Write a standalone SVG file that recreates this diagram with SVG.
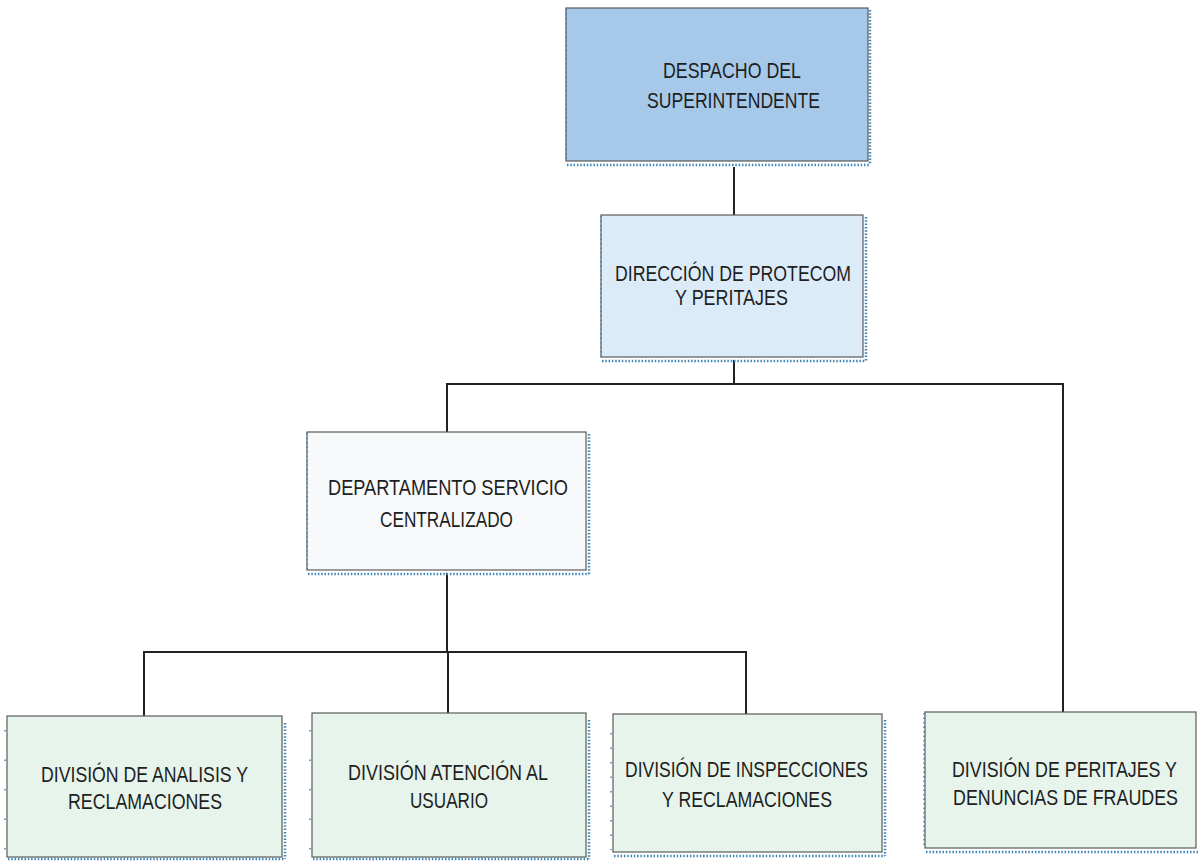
<svg xmlns="http://www.w3.org/2000/svg" width="1199" height="861" viewBox="0 0 1199 861">
<style>
.box{stroke:#5a5a5a;stroke-width:1.2}
.shadow{fill:none;stroke:#3d87b8;stroke-width:2.5;stroke-dasharray:1.5 1.8}
.lshadow{fill:none;stroke:#3d87b8;stroke-width:1.5;stroke-dasharray:1.5 3}
.t{font-family:"Liberation Sans",Arial,sans-serif;font-size:22px;fill:#1e1e1e;text-anchor:start}
.conn{fill:none;stroke:#222;stroke-width:2}
</style>
<rect width="1199" height="861" fill="#ffffff"/>
<g id="connectors">
<path class="conn" d="M734 167 V215"/>
<path class="conn" d="M734 360 V384 M447 432 V384 H1063 V712"/>
<path class="conn" d="M447 573 V652 M144 716 V652 H746 V714 M448 652 V713"/>
</g>
<g id="despacho">
<rect class="box" x="566" y="8" width="302" height="153" fill="#a6c9ea"/>
<path class="shadow" d="M567 165 H870 M870 10 V165"/>
<path class="lshadow" d="M566 9 V160"/>
<text class="t" x="663" y="78" textLength="138" lengthAdjust="spacingAndGlyphs">DESPACHO DEL</text>
<text class="t" x="647" y="108" textLength="173" lengthAdjust="spacingAndGlyphs">SUPERINTENDENTE</text>
</g>
<g id="direccion">
<rect class="box" x="601" y="215" width="262" height="142" fill="#dcebf8"/>
<path class="shadow" d="M602 361 H866 M866 217 V361"/>
<path class="lshadow" d="M601 216 V357"/>
<text class="t" x="615" y="281" textLength="236" lengthAdjust="spacingAndGlyphs">DIRECCIÓN DE PROTECOM</text>
<text class="t" x="675" y="305" textLength="113" lengthAdjust="spacingAndGlyphs">Y PERITAJES</text>
</g>
<g id="departamento">
<rect class="box" x="307" y="432" width="279" height="138" fill="#f7f9fb"/>
<path class="shadow" d="M308 574 H589 M589 434 V574"/>
<path class="lshadow" d="M307 433 V570"/>
<text class="t" x="328" y="495" textLength="240" lengthAdjust="spacingAndGlyphs">DEPARTAMENTO SERVICIO</text>
<text class="t" x="380" y="527" textLength="133" lengthAdjust="spacingAndGlyphs">CENTRALIZADO</text>
</g>
<g id="div-analisis">
<rect class="box" x="7" y="716" width="275" height="141" fill="#e6f4eb"/>
<path class="shadow" d="M8 859 H285 M285 723 V859"/>
<path class="lshadow" d="M5 730 V850" style="stroke-dasharray:1.5 28"/>
<text class="t" x="41" y="782" textLength="207" lengthAdjust="spacingAndGlyphs">DIVISIÓN DE ANALISIS Y</text>
<text class="t" x="68" y="809" textLength="154" lengthAdjust="spacingAndGlyphs">RECLAMACIONES</text>
</g>
<g id="div-atencion">
<rect class="box" x="312" y="713" width="274" height="144" fill="#e6f4eb"/>
<path class="shadow" d="M313 859 H589 M589 720 V859"/>
<path class="lshadow" d="M310 730 V850" style="stroke-dasharray:1.5 28"/>
<text class="t" x="348" y="780" textLength="200" lengthAdjust="spacingAndGlyphs">DIVISIÓN ATENCIÓN AL</text>
<text class="t" x="410" y="808" textLength="78" lengthAdjust="spacingAndGlyphs">USUARIO</text>
</g>
<g id="div-inspecciones">
<rect class="box" x="613" y="714" width="269" height="138" fill="#e6f4eb"/>
<path class="shadow" d="M614 856 H885 M885 720 V856"/>
<path class="lshadow" d="M611 733 V850" style="stroke-dasharray:1.5 13"/>
<text class="t" x="625" y="777" textLength="243" lengthAdjust="spacingAndGlyphs">DIVISIÓN DE INSPECCIONES</text>
<text class="t" x="662" y="807" textLength="170" lengthAdjust="spacingAndGlyphs">Y RECLAMACIONES</text>
</g>
<g id="div-peritajes">
<rect class="box" x="925" y="712" width="271" height="136" fill="#e6f4eb"/>
<path class="shadow" d="M926 852 H1198"/>
<path class="lshadow" d="M924 713 V848"/>
<text class="t" transform="translate(952 777) scale(0.818 1)" textLength="275" lengthAdjust="spacingAndGlyphs">DIVISIÓN DE PERITAJES Y</text>
<text class="t" transform="translate(953 805) scale(0.818 1)" textLength="275" lengthAdjust="spacingAndGlyphs">DENUNCIAS DE FRAUDES</text>
</g>
</svg>
